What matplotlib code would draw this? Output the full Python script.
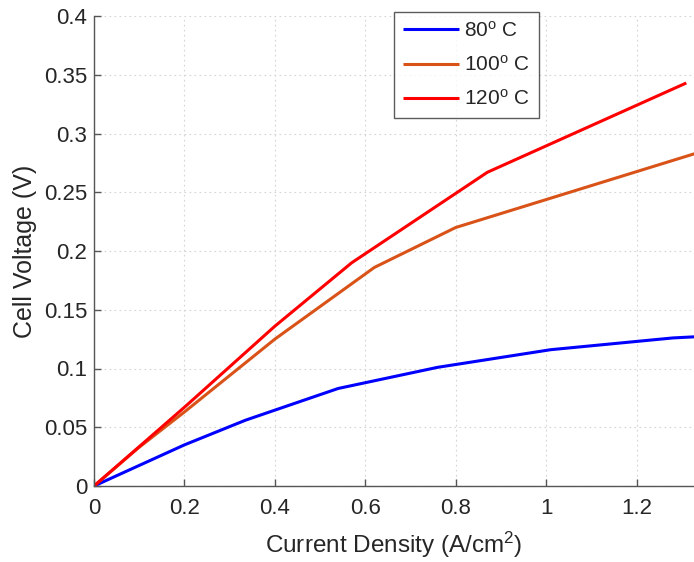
import matplotlib
matplotlib.use("Agg")
import matplotlib.pyplot as plt

plt.rcParams['font.family'] = ['Liberation Sans', 'DejaVu Sans']
plt.rcParams['mathtext.fontset'] = 'custom'
plt.rcParams['mathtext.rm'] = 'Liberation Sans'
plt.rcParams['mathtext.it'] = 'Liberation Sans:italic'

# Data
x_80 = [0, 0.20, 0.335, 0.54, 0.76, 1.01, 1.28, 1.33]
y_80 = [0, 0.035, 0.056, 0.083, 0.101, 0.116, 0.126, 0.127]

x_100 = [0, 0.10, 0.20, 0.40, 0.62, 0.80, 1.33]
y_100 = [0, 0.033, 0.063, 0.125, 0.186, 0.220, 0.283]

x_120 = [0, 0.20, 0.40, 0.57, 0.87, 1.31]
y_120 = [0, 0.067, 0.136, 0.190, 0.267, 0.343]

labels = ['80$^{\\mathrm{o}}$ C', '100$^{\\mathrm{o}}$ C', '120$^{\\mathrm{o}}$ C']
colors = ['#0000FF', '#D95319', '#FF0000']

xticks = [0, 0.2, 0.4, 0.6, 0.8, 1.0, 1.2]
xticklabels = ['0', '0.2', '0.4', '0.6', '0.8', '1', '1.2']
yticks = [0, 0.05, 0.1, 0.15, 0.2, 0.25, 0.3, 0.35, 0.4]
yticklabels = ['0', '0.05', '0.1', '0.15', '0.2', '0.25', '0.3', '0.35', '0.4']

fig = plt.figure(figsize=(6.94, 5.62), dpi=100)
ax = fig.add_axes([94/694, 76/562, 600/694, 470/562])

for xs, ys, lab, c in zip([x_80, x_100, x_120], [y_80, y_100, y_120], labels, colors):
    ax.plot(xs, ys, color=c, lw=2.2, label=lab, solid_capstyle='butt')

ax.set_xlim(0, 1.327)
ax.set_ylim(0, 0.4)
ax.set_xticks(xticks)
ax.set_xticklabels(xticklabels)
ax.set_yticks(yticks)
ax.set_yticklabels(yticklabels)

ax.grid(True, linestyle=(0, (1.5, 3)), color='#d4d4d4', lw=0.8)
ax.set_axisbelow(True)
for s in ['top', 'right']:
    ax.spines[s].set_visible(False)
for s in ['left', 'bottom']:
    ax.spines[s].set_color('#555555')
    ax.spines[s].set_linewidth(1.0)
ax.tick_params(direction='in', length=5, width=1.0, color='#555555',
               labelsize=16, labelcolor='#262626')
ax.tick_params(axis='x', pad=9)
ax.tick_params(axis='y', pad=5)

ax.set_xlabel('Current Density (A/cm$^{2}$)', fontsize=17.5, color='#262626', labelpad=7.5)
ax.set_ylabel('Cell Voltage (V)', fontsize=18, color='#262626', labelpad=5)

leg = ax.legend(loc='upper left', bbox_to_anchor=(0.5, 1.0085), fontsize=15,
                frameon=True, fancybox=False, edgecolor='#333333',
                handlelength=2.7, borderpad=0.42, labelspacing=0.68, handletextpad=0.25,
                borderaxespad=0)
leg.get_frame().set_linewidth(1.0)
for t in leg.get_texts():
    t.set_color('#262626')

fig.savefig('out.png', dpi=100)
